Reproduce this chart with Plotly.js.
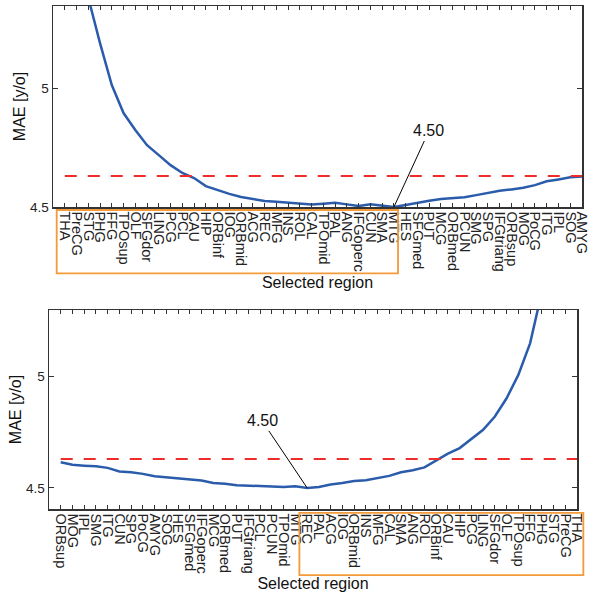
<!DOCTYPE html>
<html>
<head>
<meta charset="utf-8">
<script src="https://cdn.plot.ly/plotly-3.0.1.min.js"></script>
<style>html,body{margin:0;padding:0;background:#fff;}#chart{width:589px;height:592px;}</style>
</head>
<body>
<div id="chart"></div>
<script>
// ---- Data ----
const topRegions = ["THA","PreCG","STG","PHG","FFG","TPOsup","OLF","SFGdor","LING","PCG","PCL","CAU","HIP","ORBinf","IOG","ORBmid","ACG","REC","MFG","INS","ROL","CAL","TPOmid","PAL","ANG","IFGoperc","CUN","SMA","MTG","HES","SFGmed","PUT","MCG","ORBmed","PCUN","SMG","SPG","IFGtriang","ORBsup","MOG","PoCG","ITG","IPL","SOG","AMYG"];
const topMAE = [6.20,5.70,5.38,5.189,5.013,4.895,4.824,4.760,4.718,4.676,4.643,4.622,4.588,4.571,4.555,4.542,4.534,4.525,4.522,4.517,4.513,4.510,4.514,4.518,4.511,4.504,4.511,4.504,4.500,4.508,4.518,4.526,4.534,4.538,4.541,4.550,4.560,4.568,4.574,4.581,4.592,4.608,4.616,4.625,4.628];

const bottomRegions = ["ORBsup","MOG","IPL","SMG","ITG","CUN","SPG","PoCG","AMYG","SOG","HES","SFGmed","IFGoperc","MCG","ORBmed","PUT","IFGtriang","PCL","PCUN","TPOmid","MTG","REC","PAL","ACG","IOG","ORBmid","INS","MFG","CAL","SMA","ANG","ROL","ORBinf","CAU","HIP","PCG","LING","SFGdor","OLF","TPOsup","FFG","PHG","STG","PreCG","THA"];
const bottomMAE = [4.615,4.604,4.600,4.597,4.590,4.574,4.570,4.563,4.552,4.547,4.542,4.537,4.533,4.522,4.519,4.512,4.510,4.509,4.509,4.504,4.507,4.500,4.504,4.515,4.522,4.531,4.534,4.545,4.554,4.570,4.579,4.592,4.622,4.654,4.679,4.720,4.761,4.821,4.903,5.008,5.150,5.380,5.700,6.100,6.600];

const thresholdMAE = 4.63;
const yTickVals = [4.5, 5];
const yTickText = ["4.5", "5"];
const xTitle = "Selected region";
const yTitle = "MAE [y/o]";

// ---- Styling ----
const FONT = "Liberation Sans, Arial, Helvetica, sans-serif";
const BLUE = "#2a5cab";
const RED = "#ee2c2c";
const ORANGE = "#f39a3a";
const AX = "#333333";

function argmin(a){let k=0;for(let i=1;i<a.length;i++){if(a[i]<a[k])k=i;}return k;}
const topMin = argmin(topMAE);
const botMin = argmin(bottomMAE);

const traces = [
  {x: topRegions, y: topMAE, xaxis:"x", yaxis:"y", mode:"lines", line:{color:BLUE, width:2.5}, hoverinfo:"skip"},
  {x: [topRegions[0], topRegions[topRegions.length-1]], y:[thresholdMAE, thresholdMAE], xaxis:"x", yaxis:"y", mode:"lines", line:{color:RED, width:2, dash:"12px,11px"}, hoverinfo:"skip"},
  {x: bottomRegions, y: bottomMAE, xaxis:"x2", yaxis:"y2", mode:"lines", line:{color:BLUE, width:2.5}, hoverinfo:"skip"},
  {x: [bottomRegions[0], bottomRegions[bottomRegions.length-1]], y:[thresholdMAE, thresholdMAE], xaxis:"x2", yaxis:"y2", mode:"lines", line:{color:RED, width:2, dash:"12px,11px"}, hoverinfo:"skip"}
];

function xaxisCfg(domain, cats, anchor){
  return {
    domain: domain, anchor: anchor, type:"category",
    categoryorder:"array", categoryarray: cats,
    range:[-1, cats.length-1],
    tickmode:"array", tickvals: cats, ticktext: cats,
    tickangle: 90, tickfont:{family:FONT, size:14.5, color:"#222"},
    ticks:"inside", ticklen:4, tickwidth:1, tickcolor:AX,
    showline:true, linecolor:AX, linewidth:1.5, mirror:"ticks",
    showgrid:false, zeroline:false, automargin:false,
    title:{text:xTitle, font:{family:FONT, size:16, color:"#111"}}
  };
}
function yaxisCfg(domain, range, anchor){
  return {
    domain: domain, anchor: anchor, range: range,
    tickmode:"array", tickvals:yTickVals, ticktext:yTickText,
    tickfont:{family:FONT, size:13.5, color:"#222"},
    ticks:"inside", ticklen:5, tickwidth:1, tickcolor:AX,
    showline:true, linecolor:AX, linewidth:1.5, mirror:"ticks",
    showgrid:false, zeroline:false, automargin:false,
    title:{text:yTitle, font:{family:FONT, size:16, color:"#111"}, standoff:0}
  };
}

// highlight boxes around the tick-label band (positions in axis-domain fractions)
const N1 = topRegions.length, N2 = bottomRegions.length;
const topBoxX1 = (topMin + 1 + 0.35) / N1;     // just past the minimum's label
const botBoxX0 = (botMin + 1 - 0.66) / N2;     // just before the minimum's label

const layout = {
  width:589, height:592,
  margin:{l:0, r:0, t:0, b:0},
  paper_bgcolor:"#fff", plot_bgcolor:"#fff",
  showlegend:false,
  font:{family:FONT, color:"#111"},
  xaxis: xaxisCfg([53/589, 582/589], topRegions, "y"),
  yaxis: yaxisCfg([1-207/592, 1-6/592], [4.5, 5.345], "x"),
  xaxis2: xaxisCfg([49/589, 577/589], bottomRegions, "y2"),
  yaxis2: yaxisCfg([1-509/592, 1-310/592], [4.405, 5.3], "x2"),
  annotations: [
    {x: topRegions[topMin], y: topMAE[topMin], xref:"x", yref:"y", text: topMAE[topMin].toFixed(2),
     showarrow:true, arrowhead:0, arrowwidth:1, arrowcolor:"#000", ax:35, ay:-76, standoff:0,
     font:{family:FONT, size:16, color:"#111"}},
    {x: bottomRegions[botMin], y: bottomMAE[botMin], xref:"x2", yref:"y2", text: bottomMAE[botMin].toFixed(2),
     showarrow:true, arrowhead:0, arrowwidth:1, arrowcolor:"#000", ax:-45, ay:-67, standoff:0,
     font:{family:FONT, size:16, color:"#111"}}
  ],
  shapes: [
    {type:"rect", xref:"x domain", yref:"y domain", x0:0.007, x1: topBoxX1, y0:-0.015, y1:-0.330,
     line:{color:ORANGE, width:1.8}, fillcolor:"rgba(0,0,0,0)"},
    {type:"rect", xref:"x2 domain", yref:"y2 domain", x0: botBoxX0, x1: 1.012, y0:-0.019, y1:-0.332,
     line:{color:ORANGE, width:1.8}, fillcolor:"rgba(0,0,0,0)"}
  ]
};

Plotly.newPlot("chart", traces, layout, {staticPlot:true, displayModeBar:false});
</script>
</body>
</html>
